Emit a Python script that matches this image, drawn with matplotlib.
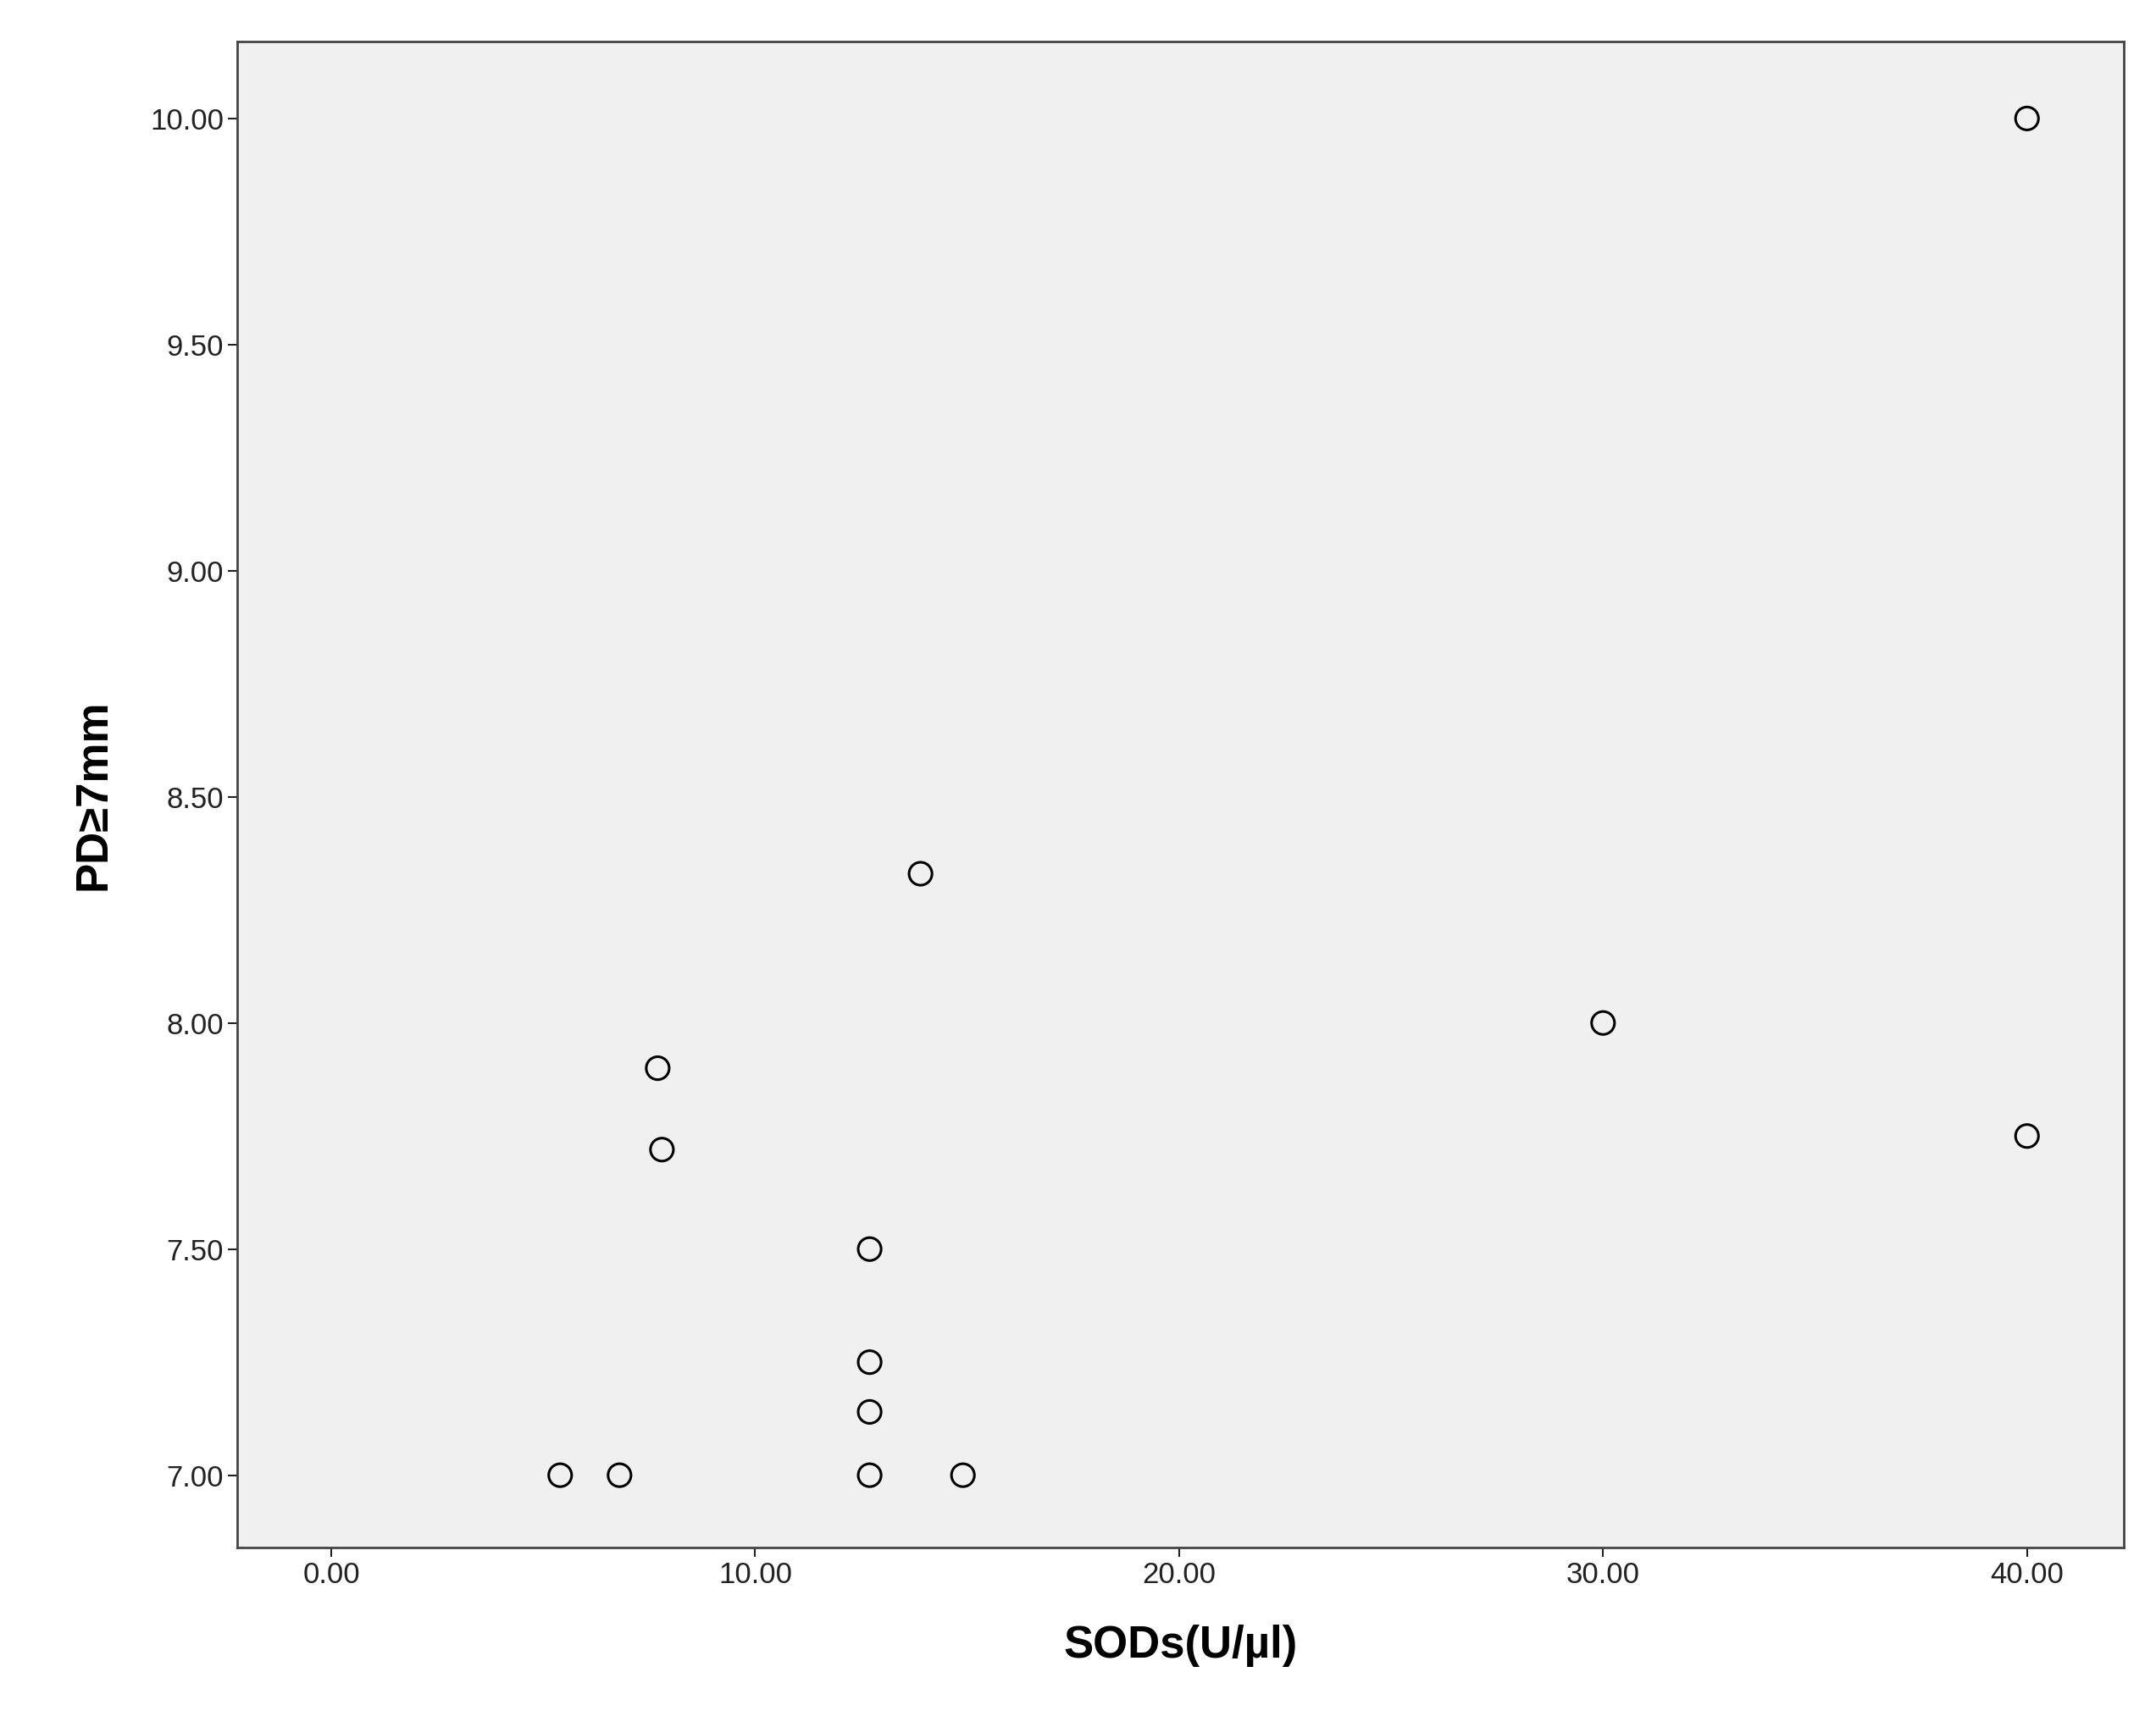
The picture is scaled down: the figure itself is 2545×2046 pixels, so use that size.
import matplotlib.pyplot as plt

plt.rcParams['font.family'] = ['Liberation Sans', 'DejaVu Sans']

sods = [5.4, 6.8, 7.7, 7.8, 12.7, 12.7, 12.7, 12.7, 14.9, 13.9, 30.0, 40.0, 40.0]
pd7 = [7.0, 7.0, 7.9, 7.72, 7.5, 7.25, 7.14, 7.0, 7.0, 8.33, 8.0, 7.75, 10.0]
xticks = [0, 10, 20, 30, 40]
yticks = [7.0, 7.5, 8.0, 8.5, 9.0, 9.5, 10.0]

fig = plt.figure(figsize=(25.45, 20.46), dpi=100)
ax = fig.add_axes([0.110, 0.107, 0.875, 0.869])
ax.set_facecolor('#f0f0f0')
ax.scatter(sods, pd7, s=380, facecolors='none', edgecolors='black', linewidths=2.2)
ax.set_xlim(-2.22, 42.28)
ax.set_ylim(6.84, 10.17)
ax.set_xticks(xticks)
ax.set_xticklabels([f'{v:.2f}' for v in xticks])
ax.set_yticks(yticks)
ax.set_yticklabels([f'{v:.2f}' for v in yticks])
ax.tick_params(labelsize=25, length=8, width=1.5, colors='#222222')
for s in ax.spines.values():
    s.set_linewidth(2)
    s.set_color('#444444')
ax.set_xlabel('SODs(U/µl)', fontsize=38, fontweight='bold', labelpad=30)
ax.set_ylabel('PD≥7mm', fontsize=38, fontweight='bold', labelpad=30)
fig.savefig('out.png', dpi=100, facecolor='white')
